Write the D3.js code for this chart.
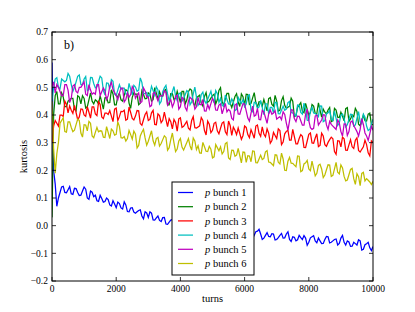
<!DOCTYPE html>
<html>
<head>
  <meta charset="UTF-8">
  <style>
    body { margin: 0; background: #fff; }
    .axis text { font-family: "Liberation Serif", serif; font-size: 9.5px; fill: #000; }
    .frame { fill: none; stroke: #000; stroke-width: 1; }
    .tick-mark { stroke: #000; stroke-width: 0.8; }
    .series { fill: none; stroke-width: 1.25; stroke-linejoin: miter; }
    .label { font-family: "Liberation Serif", serif; font-size: 10.5px; fill: #000; }
    .legend text { font-family: "Liberation Serif", serif; font-size: 10.5px; fill: #000; }
  </style>
  <script src="https://d3js.org/d3.v7.min.js"></script>
</head>
<body>
<svg id="chart"></svg>
<script>

// turns, every 50 from 0 to 10000
var turns = [
  0,50,100,150,200,250,300,350,400,450,500,550,600,650,700,750,800,850,900,950,
  1000,1050,1100,1150,1200,1250,1300,1350,1400,1450,1500,1550,1600,1650,1700,1750,1800,1850,1900,1950,
  2000,2050,2100,2150,2200,2250,2300,2350,2400,2450,2500,2550,2600,2650,2700,2750,2800,2850,2900,2950,
  3000,3050,3100,3150,3200,3250,3300,3350,3400,3450,3500,3550,3600,3650,3700,3750,3800,3850,3900,3950,
  4000,4050,4100,4150,4200,4250,4300,4350,4400,4450,4500,4550,4600,4650,4700,4750,4800,4850,4900,4950,
  5000,5050,5100,5150,5200,5250,5300,5350,5400,5450,5500,5550,5600,5650,5700,5750,5800,5850,5900,5950,
  6000,6050,6100,6150,6200,6250,6300,6350,6400,6450,6500,6550,6600,6650,6700,6750,6800,6850,6900,6950,
  7000,7050,7100,7150,7200,7250,7300,7350,7400,7450,7500,7550,7600,7650,7700,7750,7800,7850,7900,7950,
  8000,8050,8100,8150,8200,8250,8300,8350,8400,8450,8500,8550,8600,8650,8700,8750,8800,8850,8900,8950,
  9000,9050,9100,9150,9200,9250,9300,9350,9400,9450,9500,9550,9600,9650,9700,9750,9800,9850,9900,9950,
  10000];

var bunch1 = [
  0.59,0.20,0.15,0.07,0.10,0.12,0.14,0.142,0.12,0.119,0.13,0.141,0.115,0.113,0.135,0.134,0.12,0.109,0.11,0.125,
  0.14,0.132,0.10,0.095,0.125,0.121,0.105,0.11,0.09,0.088,0.11,0.098,0.085,0.087,0.10,0.094,0.075,0.071,0.09,0.078,
  0.065,0.085,0.08,0.064,0.06,0.086,0.075,0.051,0.05,0.064,0.065,0.049,0.045,0.05,0.055,0.057,0.035,0.025,0.05,0.046,
  0.03,0.05,0.045,0.021,0.02,0.028,0.035,0.019,0.015,0.029,0.03,0.006,0.005,0.013,0.02,0.022,0.0,0.002,0.015,0.028,
  0.005,0.001,0.02,0.014,-0.005,-0.004,0.01,0.005,0.0,0.007,-0.01,-0.018,0.01,0.009,-0.005,0.012,0.005,-0.017,-0.015,-0.008,
  0.0,-0.011,-0.01,0.004,0.005,-0.02,-0.02,-0.013,-0.005,0.002,-0.015,-0.014,0.0,0.008,-0.02,-0.027,-0.01,-0.012,-0.025,-0.026,
  -0.015,-0.023,-0.03,-0.013,-0.02,-0.046,-0.035,-0.022,-0.02,-0.013,-0.03,-0.05,-0.045,-0.035,-0.025,-0.039,-0.04,-0.029,-0.03,-0.052,
  -0.05,-0.043,-0.035,-0.028,-0.045,-0.044,-0.03,-0.022,-0.05,-0.057,-0.04,-0.042,-0.055,-0.051,-0.035,-0.043,-0.05,-0.036,-0.045,-0.071,
  -0.06,-0.044,-0.04,-0.036,-0.055,-0.062,-0.045,-0.055,-0.065,-0.064,-0.05,-0.039,-0.04,-0.062,-0.06,-0.055,-0.05,-0.048,-0.07,-0.064,
  -0.045,-0.035,-0.06,-0.07,-0.055,-0.059,-0.075,-0.074,-0.06,-0.065,-0.07,-0.051,-0.055,-0.088,-0.085,-0.069,-0.065,-0.06,-0.08,-0.09,
  -0.075];

var bunch2 = [
  0.03,0.40,0.47,0.485,0.44,0.44,0.48,0.465,0.43,0.43,0.45,0.455,0.46,0.46,0.42,0.415,0.47,0.465,0.44,0.47,
  0.46,0.425,0.43,0.455,0.48,0.45,0.44,0.455,0.45,0.44,0.47,0.446,0.421,0.462,0.463,0.444,0.445,0.491,0.476,0.437,
  0.437,0.468,0.479,0.455,0.45,0.471,0.491,0.487,0.443,0.424,0.464,0.48,0.475,0.476,0.437,0.443,0.488,0.474,0.459,0.46,
  0.48,0.475,0.45,0.455,0.499,0.479,0.459,0.484,0.468,0.468,0.488,0.493,0.437,0.437,0.477,0.477,0.456,0.461,0.486,0.466,
  0.445,0.485,0.485,0.44,0.454,0.484,0.494,0.489,0.443,0.433,0.462,0.467,0.472,0.442,0.432,0.467,0.481,0.446,0.451,0.461,
  0.47,0.475,0.44,0.455,0.489,0.499,0.449,0.434,0.458,0.478,0.478,0.443,0.427,0.447,0.467,0.477,0.446,0.431,0.476,0.466,
  0.435,0.475,0.474,0.438,0.442,0.462,0.481,0.445,0.429,0.448,0.447,0.432,0.456,0.436,0.415,0.459,0.463,0.438,0.432,0.471,
  0.45,0.414,0.418,0.452,0.466,0.435,0.424,0.428,0.432,0.461,0.45,0.394,0.398,0.427,0.436,0.445,0.414,0.408,0.442,0.421,
  0.40,0.409,0.438,0.432,0.406,0.405,0.444,0.418,0.392,0.421,0.41,0.404,0.418,0.427,0.376,0.38,0.424,0.418,0.392,0.391,
  0.41,0.395,0.379,0.423,0.427,0.377,0.386,0.40,0.394,0.424,0.413,0.367,0.361,0.381,0.40,0.379,0.378,0.403,0.407,0.366,
  0.365];

var bunch3 = [
  0.30,0.36,0.38,0.37,0.36,0.40,0.40,0.395,0.45,0.439,0.408,0.433,0.417,0.406,0.435,0.409,0.383,0.393,0.422,0.421,
  0.40,0.395,0.43,0.41,0.389,0.429,0.429,0.404,0.398,0.448,0.438,0.393,0.387,0.407,0.407,0.402,0.416,0.396,0.376,0.421,
  0.425,0.38,0.394,0.413,0.412,0.417,0.381,0.385,0.429,0.409,0.388,0.382,0.396,0.416,0.415,0.369,0.363,0.383,0.402,0.411,
  0.38,0.384,0.408,0.417,0.366,0.365,0.404,0.398,0.372,0.381,0.41,0.384,0.358,0.387,0.376,0.35,0.384,0.373,0.342,0.386,
  0.39,0.355,0.359,0.368,0.377,0.352,0.346,0.38,0.394,0.354,0.353,0.357,0.361,0.391,0.38,0.344,0.328,0.378,0.367,0.336,
  0.345,0.37,0.374,0.343,0.332,0.352,0.371,0.375,0.339,0.329,0.378,0.362,0.326,0.356,0.345,0.329,0.353,0.333,0.312,0.326,
  0.36,0.355,0.329,0.318,0.347,0.332,0.316,0.36,0.364,0.334,0.323,0.357,0.331,0.321,0.35,0.334,0.298,0.308,0.337,0.326,
  0.315,0.35,0.344,0.293,0.302,0.332,0.341,0.345,0.309,0.309,0.348,0.322,0.296,0.296,0.315,0.329,0.323,0.283,0.282,0.306,
  0.33,0.335,0.299,0.298,0.317,0.332,0.286,0.29,0.334,0.324,0.293,0.287,0.301,0.311,0.32,0.314,0.268,0.258,0.307,0.306,
  0.285,0.32,0.314,0.273,0.272,0.292,0.311,0.285,0.279,0.309,0.318,0.272,0.266,0.276,0.285,0.309,0.293,0.263,0.252,0.306,
  0.30];

var bunch4 = [
  0.45,0.50,0.53,0.535,0.50,0.495,0.53,0.525,0.52,0.525,0.55,0.54,0.51,0.485,0.50,0.52,0.54,0.545,0.51,0.51,
  0.53,0.539,0.488,0.492,0.536,0.535,0.514,0.498,0.502,0.521,0.54,0.534,0.488,0.472,0.516,0.515,0.494,0.528,0.522,0.476,
  0.47,0.49,0.509,0.493,0.497,0.497,0.476,0.475,0.514,0.494,0.473,0.507,0.501,0.486,0.49,0.534,0.518,0.478,0.477,0.481,
  0.465,0.475,0.504,0.488,0.472,0.502,0.491,0.44,0.449,0.484,0.498,0.507,0.476,0.451,0.465,0.484,0.503,0.468,0.452,0.476,
  0.48,0.45,0.459,0.474,0.488,0.483,0.437,0.447,0.476,0.501,0.465,0.435,0.444,0.474,0.483,0.453,0.442,0.457,0.471,0.486,
  0.46,0.444,0.488,0.477,0.446,0.46,0.434,0.433,0.472,0.456,0.44,0.439,0.458,0.447,0.416,0.42,0.464,0.453,0.442,0.456,
  0.43,0.44,0.469,0.473,0.417,0.412,0.446,0.445,0.424,0.429,0.453,0.427,0.401,0.441,0.44,0.404,0.428,0.428,0.407,0.446,
  0.445,0.405,0.404,0.418,0.432,0.417,0.421,0.445,0.449,0.409,0.408,0.402,0.396,0.436,0.435,0.409,0.403,0.443,0.422,0.381,
  0.38,0.414,0.428,0.407,0.406,0.40,0.394,0.433,0.432,0.376,0.38,0.404,0.408,0.417,0.386,0.38,0.414,0.388,0.362,0.371,
  0.40,0.404,0.388,0.357,0.365,0.384,0.403,0.402,0.36,0.364,0.388,0.412,0.375,0.369,0.403,0.392,0.36,0.344,0.348,0.367,
  0.385];

var bunch5 = [
  0.50,0.52,0.48,0.51,0.50,0.485,0.47,0.47,0.51,0.51,0.49,0.445,0.46,0.505,0.51,0.485,0.48,0.50,0.50,0.51,
  0.52,0.475,0.47,0.51,0.49,0.475,0.48,0.475,0.51,0.51,0.47,0.484,0.498,0.487,0.456,0.47,0.504,0.518,0.492,0.481,
  0.47,0.455,0.479,0.498,0.497,0.447,0.456,0.48,0.464,0.474,0.503,0.492,0.461,0.471,0.48,0.444,0.448,0.498,0.487,0.466,
  0.465,0.43,0.434,0.478,0.482,0.467,0.451,0.47,0.469,0.469,0.488,0.482,0.436,0.446,0.455,0.429,0.443,0.468,0.472,0.421,
  0.43,0.464,0.458,0.427,0.416,0.45,0.464,0.458,0.452,0.421,0.43,0.464,0.438,0.437,0.456,0.415,0.414,0.438,0.422,0.441,
  0.46,0.449,0.418,0.417,0.436,0.44,0.404,0.423,0.442,0.411,0.42,0.414,0.388,0.382,0.436,0.44,0.404,0.403,0.422,0.441,
  0.44,0.415,0.389,0.378,0.407,0.432,0.396,0.40,0.424,0.384,0.383,0.417,0.411,0.391,0.37,0.404,0.418,0.403,0.407,0.416,
  0.385,0.39,0.394,0.383,0.412,0.402,0.371,0.345,0.379,0.419,0.418,0.387,0.376,0.396,0.395,0.379,0.363,0.363,0.402,0.421,
  0.38,0.354,0.348,0.352,0.396,0.40,0.364,0.373,0.382,0.401,0.40,0.364,0.348,0.377,0.366,0.36,0.354,0.348,0.382,0.371,
  0.34,0.324,0.368,0.367,0.326,0.34,0.374,0.378,0.362,0.351,0.34,0.324,0.348,0.387,0.366,0.335,0.324,0.308,0.332,0.359,
  0.345];

var bunch6 = [
  0.45,0.28,0.19,0.26,0.30,0.37,0.38,0.39,0.34,0.338,0.375,0.375,0.355,0.34,0.345,0.365,0.385,0.38,0.335,0.32,
  0.365,0.364,0.343,0.377,0.37,0.324,0.318,0.337,0.355,0.339,0.343,0.342,0.32,0.319,0.358,0.337,0.315,0.349,0.343,0.327,
  0.33,0.375,0.359,0.318,0.317,0.322,0.306,0.315,0.344,0.329,0.313,0.342,0.331,0.281,0.29,0.324,0.338,0.348,0.317,0.291,
  0.305,0.324,0.343,0.307,0.291,0.315,0.319,0.288,0.297,0.311,0.325,0.319,0.273,0.282,0.311,0.335,0.299,0.268,0.277,0.306,
  0.315,0.284,0.273,0.287,0.301,0.315,0.289,0.273,0.317,0.306,0.275,0.289,0.263,0.262,0.301,0.285,0.269,0.268,0.287,0.276,
  0.245,0.249,0.293,0.282,0.271,0.285,0.259,0.268,0.297,0.301,0.245,0.239,0.273,0.272,0.251,0.255,0.279,0.253,0.227,0.266,
  0.265,0.229,0.253,0.252,0.231,0.27,0.269,0.228,0.227,0.241,0.255,0.239,0.243,0.267,0.271,0.23,0.229,0.223,0.217,0.256,
  0.255,0.229,0.223,0.262,0.241,0.20,0.199,0.233,0.247,0.226,0.225,0.219,0.213,0.252,0.251,0.195,0.199,0.223,0.227,0.236,
  0.205,0.199,0.233,0.207,0.18,0.189,0.218,0.222,0.205,0.174,0.183,0.202,0.22,0.219,0.178,0.182,0.205,0.229,0.193,0.187,
  0.22,0.209,0.178,0.162,0.165,0.184,0.203,0.207,0.17,0.149,0.188,0.177,0.145,0.189,0.193,0.162,0.17,0.164,0.158,0.149,
  0.16];

var names = ['bunch 1', 'bunch 2', 'bunch 3', 'bunch 4', 'bunch 5', 'bunch 6'];
var colors = ['#0000ff', '#008000', '#ff0000', '#00bfbf', '#bf00bf', '#bfbf00'];
var seriesValues = [bunch1, bunch2, bunch3, bunch4, bunch5, bunch6];

var xTicks = [0, 2000, 4000, 6000, 8000, 10000];
var yTicks = [-0.2, -0.1, 0.0, 0.1, 0.2, 0.3, 0.4, 0.5, 0.6, 0.7];

var size = {width: 415, height: 312};
var margin = {top: 32, right: 42, bottom: 31, left: 52};

var svg = d3.select('#chart')
  .attr('width', size.width)
  .attr('height', size.height);

var xScale = d3.scaleLinear()
  .domain([0, 10000])
  .range([margin.left, size.width - margin.right]);
var yScale = d3.scaleLinear()
  .domain([-0.2, 0.7])
  .range([size.height - margin.bottom, margin.top]);

var x0 = xScale(0), x1 = xScale(10000);
var y0 = yScale(-0.2), y1 = yScale(0.7);

// lines, drawn in order so bunch 6 ends on top
var line = d3.line()
  .x(function(d, i) { return xScale(turns[i]); })
  .y(function(d) { return yScale(d); });

svg.append('defs').append('clipPath')
  .attr('id', 'clip')
  .append('rect')
  .attr('x', x0).attr('y', y1)
  .attr('width', x1 - x0).attr('height', y0 - y1);

svg.append('g')
  .attr('clip-path', 'url(#clip)')
  .selectAll('path')
  .data(seriesValues)
  .enter()
  .append('path')
  .attr('class', 'series')
  .attr('stroke', function(d, i) { return colors[i]; })
  .attr('d', line);

// ticks pointing inward, on all four sides
var tickLen = 4;
var ticks = svg.append('g').attr('class', 'axis');

xTicks.forEach(function(t) {
  var x = xScale(t);
  ticks.append('line').attr('class', 'tick-mark')
    .attr('x1', x).attr('x2', x).attr('y1', y0).attr('y2', y0 - tickLen);
  ticks.append('line').attr('class', 'tick-mark')
    .attr('x1', x).attr('x2', x).attr('y1', y1).attr('y2', y1 + tickLen);
  ticks.append('text')
    .attr('x', x)
    .attr('y', y0 + 11)
    .attr('text-anchor', 'middle')
    .text(t);
});

var yFormat = d3.format('.1f');
yTicks.forEach(function(t) {
  var y = yScale(t);
  ticks.append('line').attr('class', 'tick-mark')
    .attr('x1', x0).attr('x2', x0 + tickLen).attr('y1', y).attr('y2', y);
  ticks.append('line').attr('class', 'tick-mark')
    .attr('x1', x1).attr('x2', x1 - tickLen).attr('y1', y).attr('y2', y);
  ticks.append('text')
    .attr('x', x0 - 4)
    .attr('y', y)
    .attr('dy', '0.35em')
    .attr('text-anchor', 'end')
    .text(yFormat(t));
});

svg.append('rect')
  .attr('class', 'frame')
  .attr('x', x0).attr('y', y1)
  .attr('width', x1 - x0).attr('height', y0 - y1);

// labels
svg.append('text')
  .attr('class', 'label')
  .attr('x', (x0 + x1) / 2)
  .attr('y', y0 + 21)
  .attr('text-anchor', 'middle')
  .text('turns');

svg.append('text')
  .attr('class', 'label')
  .attr('transform', 'translate(27,' + ((y0 + y1) / 2) + ') rotate(-90)')
  .attr('text-anchor', 'middle')
  .text('kurtosis');

svg.append('text')
  .attr('class', 'label')
  .attr('x', x0 + 12)
  .attr('y', y1 + 17)
  .style('font-size', '12px')
  .text('b)');

// legend
var legend = svg.append('g')
  .attr('class', 'legend')
  .attr('transform', 'translate(172, 182)');

legend.append('rect')
  .attr('width', 82)
  .attr('height', 93)
  .attr('fill', '#fff')
  .attr('stroke', '#000')
  .attr('stroke-width', 1);

var rows = legend.selectAll('.row')
  .data(names)
  .enter()
  .append('g')
  .attr('class', 'row')
  .attr('transform', function(d, i) { return 'translate(0,' + (10.5 + i * 14.2) + ')'; });

rows.append('line')
  .attr('x1', 6).attr('x2', 21)
  .attr('stroke', function(d, i) { return colors[i]; })
  .attr('stroke-width', 1.25);

var labels = rows.append('text')
  .attr('x', 33)
  .attr('dy', '0.35em');
labels.append('tspan').style('font-style', 'italic').text('p');
labels.append('tspan').text(function(d) { return ' ' + d; });

</script>
</body>
</html>
